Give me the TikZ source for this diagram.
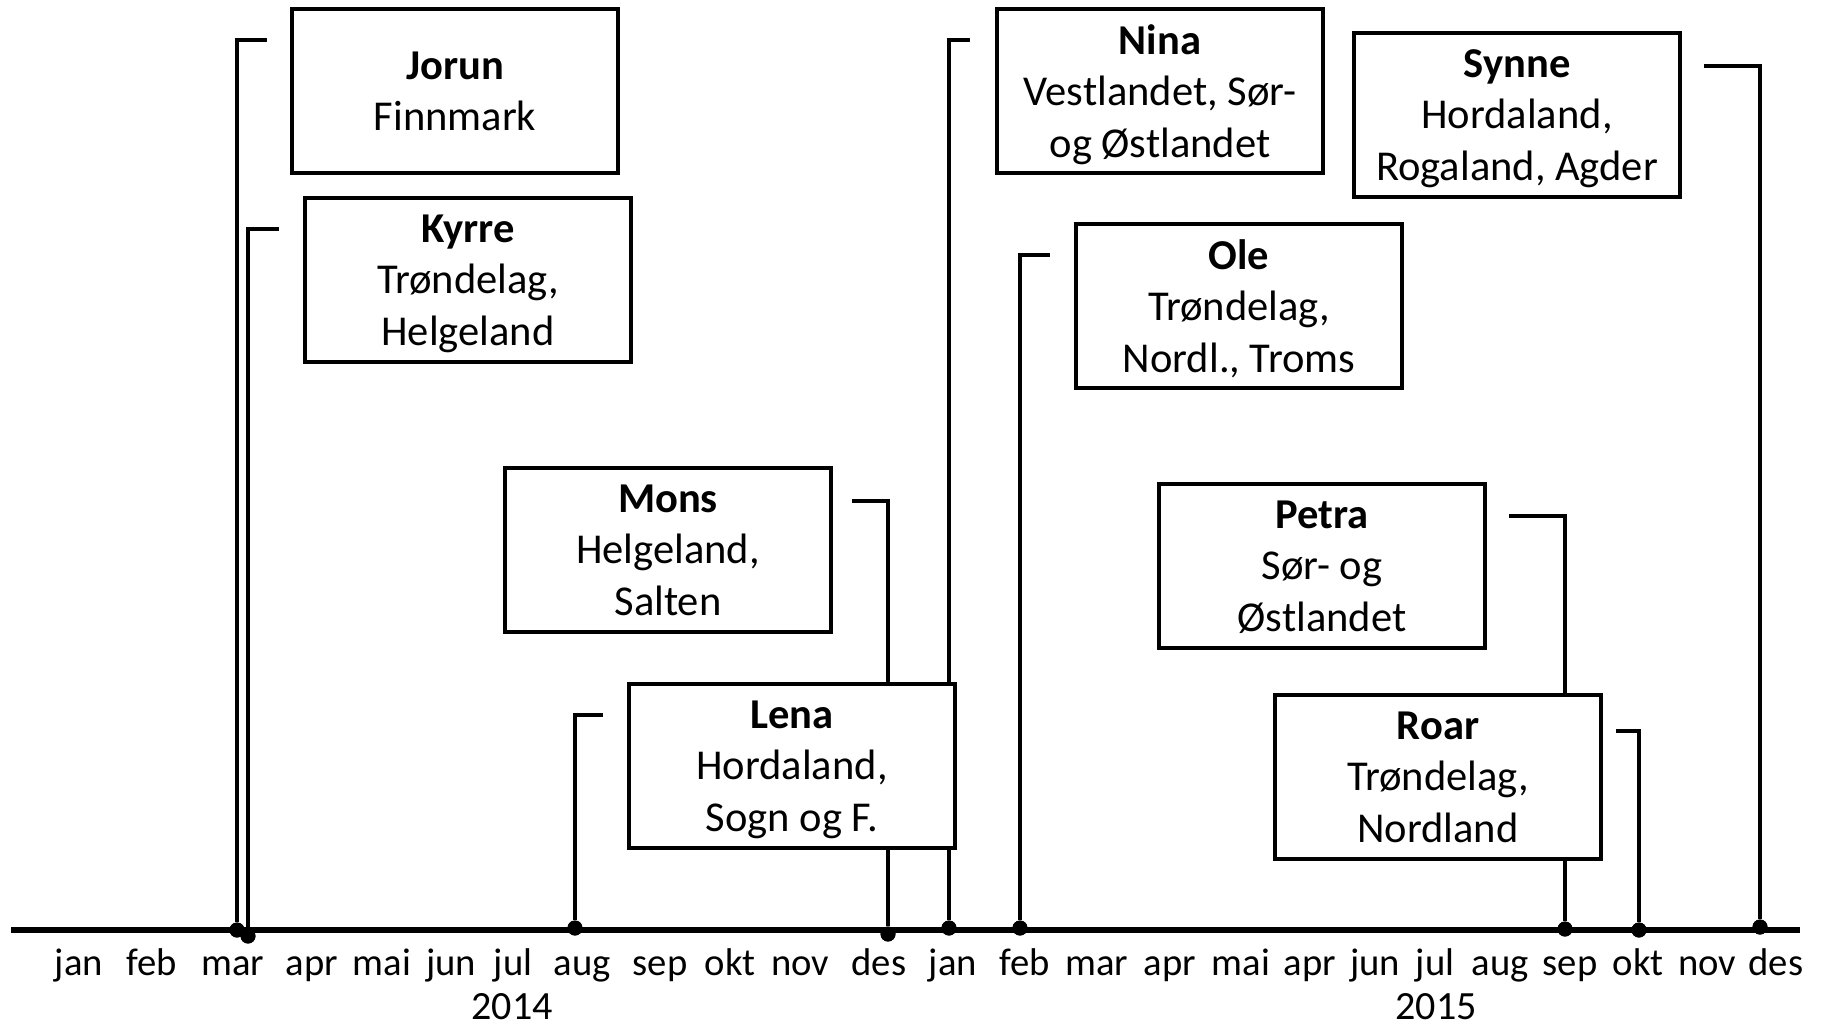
\documentclass[tikz,border=0pt]{standalone}
\usepackage{fontspec}
\setmainfont{Carlito}
\usepackage{tikz}

\tikzset{
  box/.style={draw=black,line width=1.4pt,fill=white,minimum width=3.26cm,minimum height=1.64cm,inner sep=0pt,text depth=-0.05cm,align=center,font=\fontsize{12.1}{14.6}\selectfont},
  dot/.style={circle,fill=black,minimum size=0.15cm,inner sep=0pt},
  month/.style={inner sep=0pt,anchor=base,font=\fontsize{11}{13}\selectfont},
  year/.style={inner sep=0pt,anchor=base,font=\fontsize{11.4}{13}\selectfont},
  tl/.style={line width=1.3pt}
}

\begin{document}
\begin{tikzpicture}

      \useasboundingbox (0,0) rectangle (18.23,-10.24);

      \node[inner sep=0pt] (ax0) at (0.09,-9.30){};
      \node[inner sep=0pt] (ax1) at (18.02,-9.30){};

      \node[dot] (dj) at (2.37,-9.30){};
      \node[dot] (dk) at (2.48,-9.36){};
      \node[dot] (dl) at (5.75,-9.28){};
      \node[dot] (dm) at (8.88,-9.34){};
      \node[dot] (dn) at (9.49,-9.28){};
      \node[dot] (do) at (10.20,-9.28){};
      \node[dot] (dp) at (15.65,-9.29){};
      \node[dot] (dr) at (16.39,-9.30){};
      \node[dot] (ds) at (17.60,-9.27){};

      \coordinate (tj) at (2.67,-0.40);
      \coordinate (tk) at (2.79,-2.29);
      \coordinate (tl) at (6.03,-7.15);
      \coordinate (tm) at (8.52,-5.01);
      \coordinate (tn) at (9.70,-0.40);
      \coordinate (to) at (10.50,-2.55);
      \coordinate (tp) at (15.09,-5.16);
      \coordinate (tr) at (16.16,-7.31);
      \coordinate (ts) at (17.04,-0.66);

      \draw[tl] (dj) |- (tj);
      \draw[tl] (dk) |- (tk);
      \draw[tl] (dl) |- (tl);
      \draw[tl] (dm) |- (tm);
      \draw[tl] (dn) |- (tn);
      \draw[tl] (do) |- (to);
      \draw[tl] (dp) |- (tp);
      \draw[tl] (dr) |- (tr);
      \draw[tl] (ds) |- (ts);

      \draw[line width=1.8pt] (ax0) -- (ax1);

      \node[dot] at (dj){};
      \node[dot] at (dk){};
      \node[dot] at (dl){};
      \node[dot] at (dm){};
      \node[dot] at (dn){};
      \node[dot] at (do){};
      \node[dot] at (dp){};
      \node[dot] at (dr){};
      \node[dot] at (ds){};

      \node[box] (jorun) at (4.55,-0.91){\textbf{Jorun}\\Finnmark};
      \node[box] (kyrre) at (4.68,-2.80){\textbf{Kyrre}\\Trøndelag,\\Helgeland};
      \node[box] (mons) at (6.68,-5.50){\textbf{Mons}\\Helgeland,\\Salten};
      \node[box] (lena) at (7.92,-7.66){\textbf{Lena}\\Hordaland,\\Sogn og F.};
      \node[box] (nina) at (11.60,-0.91){\textbf{Nina}\\Vestlandet, Sør-\\og Østlandet};
      \node[box] (ole) at (12.39,-3.06){\textbf{Ole}\\Trøndelag,\\Nordl., Troms};
      \node[box] (petra) at (13.22,-5.66){\textbf{Petra}\\Sør- og\\Østlandet};
      \node[box] (roar) at (14.38,-7.77){\textbf{Roar}\\Trøndelag,\\Nordland};
      \node[box] (synne) at (15.17,-1.15){\textbf{Synne}\\Hordaland,\\Rogaland, Agder};

      % 2014
      \node[month] (m1) at (0.79,-9.75){jan};
      \node[month] (m2) at (1.52,-9.75){feb};
      \node[month] (m3) at (2.33,-9.75){mar};
      \node[month] (m4) at (3.12,-9.75){apr};
      \node[month] (m5) at (3.82,-9.75){mai};
      \node[month] (m6) at (4.51,-9.75){jun};
      \node[month] (m7) at (5.13,-9.75){jul};
      \node[month] (m8) at (5.82,-9.75){aug};
      \node[month] (m9) at (6.60,-9.75){sep};
      \node[month] (m10) at (7.30,-9.75){okt};
      \node[month] (m11) at (8.00,-9.75){nov};
      \node[month] (m12) at (8.79,-9.75){des};
      \node[year] (y1) at (5.12,-10.19){2014};

      % 2015
      \node[month] (n1) at (9.53,-9.75){jan};
      \node[month] (n2) at (10.25,-9.75){feb};
      \node[month] (n3) at (10.97,-9.75){mar};
      \node[month] (n4) at (11.70,-9.75){apr};
      \node[month] (n5) at (12.41,-9.75){mai};
      \node[month] (n6) at (13.10,-9.75){apr};
      \node[month] (n7) at (13.75,-9.75){jun};
      \node[month] (n8) at (14.35,-9.75){jul};
      \node[month] (n9) at (15.00,-9.75){aug};
      \node[month] (n10) at (15.70,-9.75){sep};
      \node[month] (n11) at (16.38,-9.75){okt};
      \node[month] (n12) at (17.07,-9.75){nov};
      \node[month] (n13) at (17.76,-9.75){des};
      \node[year] (y2) at (14.36,-10.19){2015};

    \end{tikzpicture}
\end{document}
